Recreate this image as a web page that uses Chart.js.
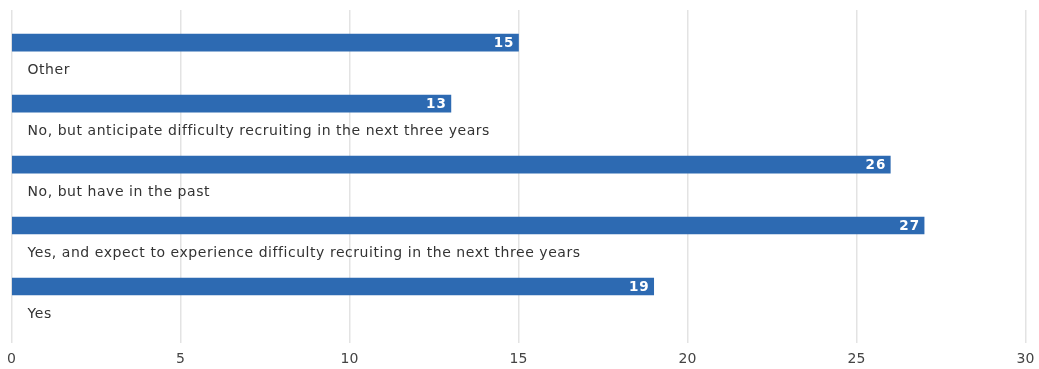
<!DOCTYPE html>
<html lang="en">
<head>
  <meta charset="UTF-8">
  <title>Recruiting difficulty</title>
  <script src="https://cdn.jsdelivr.net/npm/chart.js"></script>
  <style>
    body { margin: 0; background: #fff; }
    #wrap { width: 1039px; height: 369px; }
  </style>
</head>
<body>
  <div id="wrap"><canvas id="barChart"></canvas></div>

  <script>
    // categories, top to bottom
    const categories = [
      'Other',
      'No, but anticipate difficulty recruiting in the next three years',
      'No, but have in the past',
      'Yes, and expect to experience difficulty recruiting in the next three years',
      'Yes'
    ];
    const counts = [15, 13, 26, 27, 19];
    const xTicks = [0, 5, 10, 15, 20, 25, 30];

    const barColor = '#2d6ab2';
    const fontFamily = "'DejaVu Sans', sans-serif";

    // category label under each bar + value at the bar end
    const barLabels = {
      id: 'barLabels',
      afterDatasetsDraw(chart) {
        const ctx = chart.ctx;
        const meta = chart.getDatasetMeta(0);
        const xScale = chart.scales.x;
        ctx.save();
        meta.data.forEach((bar, i) => {
          ctx.font = 'bold 13.5px ' + fontFamily;
          ctx.fillStyle = '#fff';
          ctx.textAlign = 'right';
          ctx.textBaseline = 'middle';
          ctx.letterSpacing = '1px';
          ctx.fillText(counts[i], bar.x - 4, bar.y + 1);

          ctx.font = '14px ' + fontFamily;
          ctx.fillStyle = '#333';
          ctx.textAlign = 'left';
          ctx.letterSpacing = '0.55px';
          ctx.fillText(categories[i], xScale.left + 16, bar.y + 28);
        });
        ctx.restore();
      }
    };

    new Chart(document.getElementById('barChart'), {
      type: 'bar',
      data: {
        datasets: [{
          data: counts.map((v, i) => ({ x: v, y: i })),
          backgroundColor: barColor,
          barThickness: 17,
          borderWidth: 0
        }]
      },
      options: {
        indexAxis: 'y',
        responsive: true,
        maintainAspectRatio: false,
        animation: false,
        layout: { padding: { top: 10, left: 0, right: 0, bottom: -7 } },
        plugins: {
          legend: { display: false },
          tooltip: { enabled: false }
        },
        scales: {
          x: {
            type: 'linear',
            min: 0,
            max: 30,
            afterBuildTicks: (axis) => { axis.ticks = xTicks.map(v => ({ value: v })); },
            afterFit: (axis) => { axis.paddingLeft = 11.5; axis.paddingRight = 13.5; },
            grid: { color: '#e3e3e3', lineWidth: 1.5, drawTicks: false },
            border: { display: false },
            ticks: {
              color: '#444',
              padding: 8,
              font: { family: fontFamily, size: 14 }
            }
          },
          y: {
            type: 'linear',
            reverse: true,
            offset: false,
            min: -0.535,
            max: 4.93,
            display: false
          }
        }
      },
      plugins: [barLabels]
    });
  </script>
</body>
</html>
